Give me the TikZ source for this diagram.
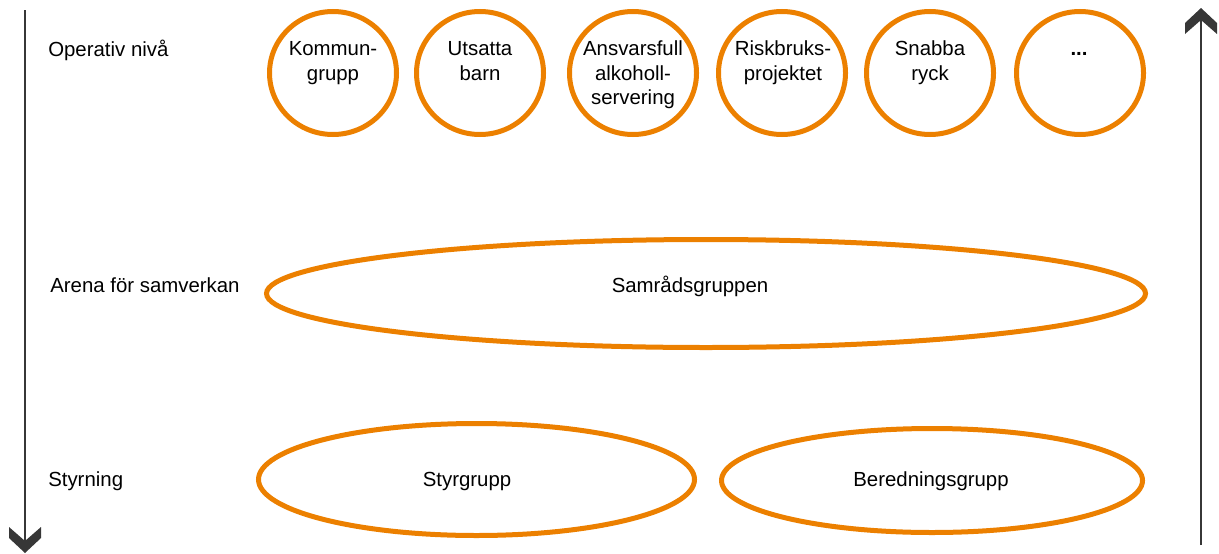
\documentclass[tikz,border=0pt]{standalone}
\usepackage{fontspec}
\setmainfont{Liberation Sans}
\usetikzlibrary{shapes.geometric}
\definecolor{orng}{RGB}{236,128,0}
\definecolor{arrowgray}{RGB}{55,55,55}
\begin{document}
\begin{tikzpicture}[x=0.75pt,y=-0.75pt,
  ring/.style={draw=orng, line width=3.75pt, ellipse, inner sep=0pt},
  small/.style={ring, minimum width=95.25pt, minimum height=92.25pt},
  lbl/.style={font=\fontsize{15.3}{18.5}\selectfont, inner sep=0pt, align=center},
  axis/.style={draw=arrowgray, line width=1.5pt},
  chev/.style={fill=arrowgray}]
\useasboundingbox (0,0) rectangle (1219,553);
% axes
\coordinate (ltop) at (25,10);
\coordinate (lbot) at (25,541);
\draw[axis] (ltop) -- (lbot);
\fill[chev] (9,527) -- (25,541) -- (41,527) -- (41,538) -- (25,553) -- (9,538) -- cycle;
\coordinate (rbot) at (1201,545);
\coordinate (rtop) at (1201,20);
\draw[axis] (rbot) -- (rtop);
\fill[chev] (1185,34) -- (1201,20) -- (1217,34) -- (1217,23) -- (1201,8) -- (1185,23) -- cycle;
% level labels
\node[lbl, anchor=base west] (lop) at (48,56) {Operativ nivå};
\node[lbl, anchor=base west] (lar) at (50,292) {Arena för samverkan};
\node[lbl, anchor=base west] (lst) at (48,486) {Styrning};
% circles
\node[small] (c1) at (333,73) {};
\node[small] (c2) at (480,73) {};
\node[small] (c3) at (633,73) {};
\node[small] (c4) at (782,73) {};
\node[small] (c5) at (930,73) {};
\node[small] (c6) at (1080,73) {};
\node[lbl, anchor=north] (t1) at (333,40.6) {\vphantom{b}Kommun-\\grupp};
\node[lbl, anchor=north] (t2) at (480,40.6) {\vphantom{b}Utsatta\\barn};
\node[lbl, anchor=north] (t3) at (633,40.6) {\vphantom{b}Ansvarsfull\\alkoholl-\\servering};
\node[lbl, anchor=north] (t4) at (783,40.6) {\vphantom{b}Riskbruks-\\projektet};
\node[lbl, anchor=north] (t5) at (930,40.6) {\vphantom{b}Snabba\\ryck};
\node[lbl, anchor=north] (t6) at (1079,40.6) {\vphantom{b}\textbf{...}};
% ellipses
\node[ring, minimum width=659.25pt, minimum height=81pt] (e1) at (706,293.5) {};
\node[ring, minimum width=327pt, minimum height=84pt] (e2) at (476.5,479.5) {};
\node[ring, minimum width=315.75pt, minimum height=78pt] (e3) at (932,480.5) {};
\node[lbl, anchor=base] (s1) at (690,292) {Samrådsgruppen};
\node[lbl, anchor=base] (s2) at (467,486) {Styrgrupp};
\node[lbl, anchor=base] (s3) at (931,486) {Beredningsgrupp};
\end{tikzpicture}
\end{document}
